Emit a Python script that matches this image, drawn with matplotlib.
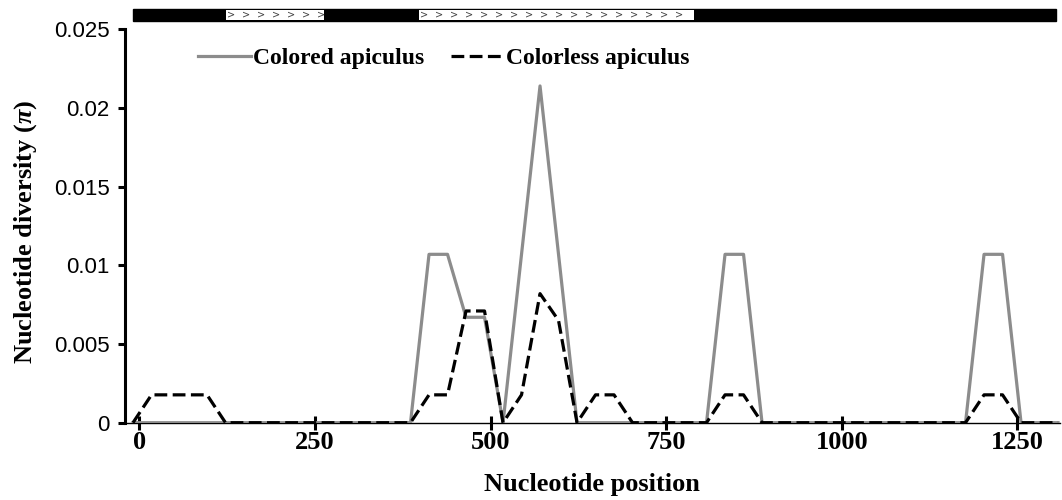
import numpy as np
import matplotlib
matplotlib.use("Agg")
import matplotlib.pyplot as plt
from matplotlib.patches import Rectangle

plt.rcParams['mathtext.fontset'] = 'custom'
plt.rcParams['mathtext.rm'] = 'Liberation Serif:bold'
plt.rcParams['mathtext.bfit'] = 'Liberation Serif:italic:bold'

# sliding-window midpoints (51 windows)
positions = np.linspace(-9, 1308, 51)

colored = [0, 0, 0, 0, 0, 0, 0, 0, 0, 0,
           0, 0, 0, 0, 0, 0, 0.0107, 0.0107, 0.0067, 0.0067,
           0, 0.0107, 0.0214, 0.0107, 0, 0, 0, 0, 0, 0,
           0, 0, 0.0107, 0.0107, 0, 0, 0, 0, 0, 0,
           0, 0, 0, 0, 0, 0, 0.0107, 0.0107, 0, 0, 0]
colorless = [0, 0.00177, 0.00177, 0.00177, 0.00177, 0, 0, 0, 0, 0,
             0, 0, 0, 0, 0, 0, 0.00177, 0.00177, 0.0071, 0.0071,
             0, 0.00177, 0.0082, 0.0065, 0, 0.00177, 0.00177, 0, 0, 0,
             0, 0, 0.00177, 0.00177, 0, 0, 0, 0, 0, 0,
             0, 0, 0, 0, 0, 0, 0.00177, 0.00177, 0, 0, 0]

xticks = [0, 250, 500, 750, 1000, 1250]
yticks = [0, 0.005, 0.01, 0.015, 0.02, 0.025]
ytick_labels = ['0', '0.005', '0.01', '0.015', '0.02', '0.025']

# gene model drawn above the plot: (start, end) of the open boxes
gene_span = (-9.4, 1305)
open_boxes = [(123, 263), (398, 790)]

fig = plt.figure(figsize=(10.62, 5.0), dpi=100)
ax = fig.add_axes([0.1177, 0.1546, 0.8803, 0.7868])

ax.plot(positions, colored, color='#8c8c8c', lw=2.3, label='Colored apiculus', zorder=3)
ax.plot(positions, colorless, color='black', lw=2.3, dashes=(4.0, 1.7),
        label='Colorless apiculus', zorder=4)

ax.set_xlim(-20.4, 1310.6)
ax.set_ylim(0, 0.025)

ax.spines['top'].set_visible(False)
ax.spines['right'].set_visible(False)
ax.spines['left'].set_linewidth(2.2)
ax.spines['bottom'].set_linewidth(1.0)

ax.set_xticks(xticks)
ax.set_xticklabels([str(t) for t in xticks], fontfamily='Liberation Serif',
                   fontweight='bold', fontsize=19)
ax.set_yticks(yticks)
ax.set_yticklabels(ytick_labels, fontfamily='Liberation Sans', fontsize=16)
ax.tick_params(axis='x', direction='inout', length=10, width=2.2, pad=1)
ax.tick_params(axis='y', direction='out', length=5, width=2.2, pad=6)

ax.set_xlabel('Nucleotide position', fontfamily='Liberation Serif',
              fontweight='bold', fontsize=19, labelpad=14)
ax.set_ylabel(r'Nucleotide diversity ($\mathbfit{\pi}$)', fontfamily='Liberation Serif',
              fontweight='bold', fontsize=19)
ax.yaxis.set_label_coords(-0.092, 0.485)

leg = ax.legend(loc='upper left', bbox_to_anchor=(0.078, 0.953), ncol=2, frameon=False,
                handlelength=2.25, handletextpad=0.1, columnspacing=1.1,
                borderpad=0, borderaxespad=0,
                prop={'family': 'Liberation Serif', 'weight': 'bold', 'size': 17})

# gene structure bar
trans = ax.get_xaxis_transform()
y0, h = 1.0219, 0.029
ax.add_patch(Rectangle((gene_span[0], y0), gene_span[1] - gene_span[0], h,
                       transform=trans, facecolor='black', edgecolor='black',
                       clip_on=False))
for a, b in open_boxes:
    ax.add_patch(Rectangle((a, y0 + 0.003), b - a, h - 0.006, transform=trans,
                           facecolor='white', edgecolor='none', clip_on=False))
    for xc in np.arange(a + 8, b - 4, 21.3):
        ax.text(xc, y0 + h / 2, '>', transform=trans, fontsize=7, color='#444444',
                ha='center', va='center', clip_on=False)

fig.savefig('out.png', dpi=100)
